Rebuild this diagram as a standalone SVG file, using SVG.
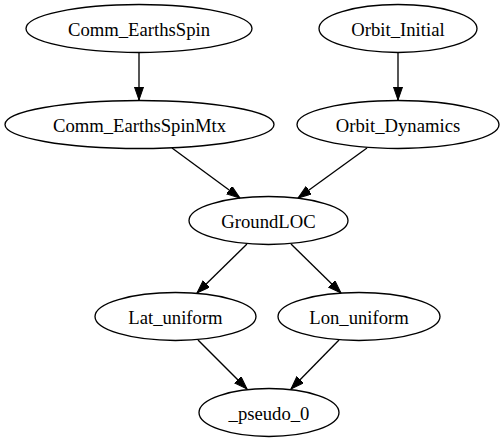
<svg xmlns="http://www.w3.org/2000/svg" width="504" height="443" viewBox="0 0 504 443">
<defs>
<marker id="arr" markerUnits="userSpaceOnUse" markerWidth="14" markerHeight="10" refX="13.33" refY="4.67" orient="auto">
<path d="M0,0 L13.33,4.67 L0,9.33 z" fill="#000" stroke="#000" stroke-width="1"/>
</marker>
<style>
.n ellipse{fill:none;stroke:#000;stroke-width:1.33}
.n text{font-family:"Liberation Serif","Times New Roman",serif;font-size:18.67px;text-anchor:middle;fill:#000}
#edges line{stroke:#000;stroke-width:1.33;marker-end:url(#arr)}
</style>
</defs>
<rect width="504" height="443" fill="#fff"/>
<g id="edges">
<line x1="139" y1="52.5" x2="139" y2="100"/>
<line x1="398" y1="52.5" x2="398" y2="100"/>
<line x1="172" y1="148" x2="240" y2="198"/>
<line x1="367" y1="148" x2="298" y2="198"/>
<line x1="247" y1="244" x2="197" y2="293"/>
<line x1="291" y1="244" x2="341" y2="293"/>
<line x1="198" y1="340" x2="247" y2="389"/>
<line x1="339" y1="340" x2="291" y2="389"/>
</g>
<g id="Comm_EarthsSpin" class="n"><ellipse cx="139" cy="28.5" rx="113" ry="24"/><text x="139" y="35.5">Comm_EarthsSpin</text></g>
<g id="Orbit_Initial" class="n"><ellipse cx="398" cy="28.5" rx="79" ry="24"/><text x="398" y="35.5">Orbit_Initial</text></g>
<g id="Comm_EarthsSpinMtx" class="n"><ellipse cx="139.5" cy="124.5" rx="134.5" ry="24"/><text x="139.5" y="131.5">Comm_EarthsSpinMtx</text></g>
<g id="Orbit_Dynamics" class="n"><ellipse cx="398" cy="124.5" rx="101" ry="24"/><text x="398" y="131.5">Orbit_Dynamics</text></g>
<g id="GroundLOC" class="n"><ellipse cx="268.5" cy="220.5" rx="79.5" ry="24"/><text x="268.5" y="227.5">GroundLOC</text></g>
<g id="Lat_uniform" class="n"><ellipse cx="175.5" cy="316.5" rx="80.5" ry="24"/><text x="175.5" y="323.5">Lat_uniform</text></g>
<g id="Lon_uniform" class="n"><ellipse cx="359" cy="316.5" rx="81" ry="24"/><text x="359" y="323.5">Lon_uniform</text></g>
<g id="_pseudo_0" class="n"><ellipse cx="269" cy="412.5" rx="70" ry="24"/><text x="269" y="419.5">_pseudo_0</text></g>
</svg>
